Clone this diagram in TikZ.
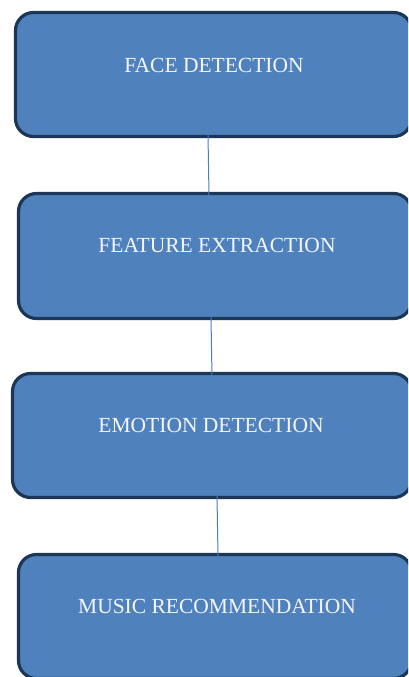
\documentclass[tikz,border=0pt]{standalone}
\usepackage{fontspec}
\setmainfont{Liberation Serif}
\definecolor{boxfill}{HTML}{4F81BD}
\definecolor{boxline}{HTML}{1C3656}
\definecolor{linkcol}{HTML}{4A7EC4}
\begin{document}
\begin{tikzpicture}[x=1pt,y=-1pt,
  stagebox/.style={draw=boxline, fill=boxfill, line width=3.2pt, rounded corners=18pt,
    minimum height=124pt, inner sep=0pt, outer sep=0pt},
  stagetext/.style={text=white!96!blue, font=\fontsize{21.5}{24}\selectfont, anchor=base, inner sep=0pt},
  link/.style={draw=linkcol, line width=1pt}]
\useasboundingbox (0,0) rectangle (408,677);
\clip (0,0) rectangle (408,677);
\fill[white] (0,0) rectangle (408,677);
\node[stagebox, minimum width=396pt] (b1) at (213.5,74.5) {};
\node[stagebox, minimum width=393pt, minimum height=125pt] (b2) at (215,256) {};
\node[stagebox, minimum width=399pt] (b3) at (212,435.5) {};
\node[stagebox, minimum width=393pt] (b4) at (215,616.5) {};
\node[stagetext] (t1) at ([xshift=0.5pt,yshift=2.5pt]b1.center) {FACE DETECTION};
\node[stagetext] (t2) at ([xshift=2pt,yshift=4pt]b2.center) {FEATURE EXTRACTION};
\node[stagetext] (t3) at ([xshift=-1pt,yshift=3.5pt]b3.center) {EMOTION DETECTION};
\node[stagetext] (t4) at ([xshift=2pt,yshift=3.5pt]b4.center) {MUSIC RECOMMENDATION};
\draw[link] ([xshift=-5.5pt,yshift=1.6pt]b1.south) -- ([xshift=-6pt,yshift=-1.6pt]b2.north);
\draw[link] ([xshift=-4pt,yshift=1.6pt]b2.south) -- ([xshift=0pt,yshift=-4pt]b3.north);
\draw[link] ([xshift=5pt,yshift=1.6pt]b3.south) -- ([xshift=3pt,yshift=-1.6pt]b4.north);
\end{tikzpicture}
\end{document}
